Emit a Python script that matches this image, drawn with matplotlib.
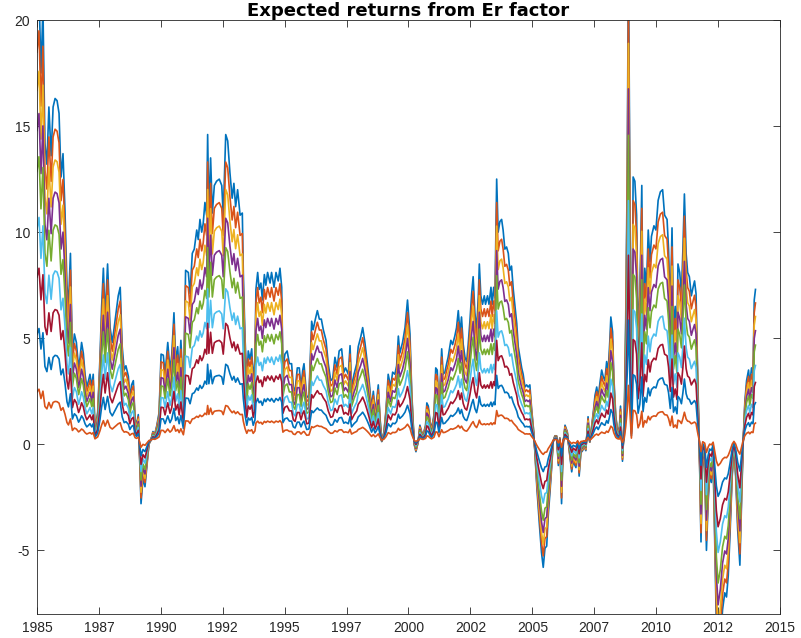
import numpy as np
import matplotlib
matplotlib.use("Agg")
import matplotlib.pyplot as plt

plt.rcParams['font.family'] = ['Liberation Sans', 'DejaVu Sans']
plt.rcParams['axes.unicode_minus'] = False

# Er factor path (top line), decimal years
years = [
    1985.00, 1985.08, 1985.16, 1985.24, 1985.32, 1985.40, 1985.48, 1985.57, 1985.65, 1985.73,
    1985.81, 1985.89, 1985.97, 1986.05, 1986.13, 1986.21, 1986.27, 1986.35, 1986.43, 1986.51,
    1986.59, 1986.68, 1986.74, 1986.80, 1986.87, 1986.94, 1987.01, 1987.08, 1987.14, 1987.21,
    1987.27, 1987.34, 1987.45, 1987.54, 1987.61, 1987.68, 1987.75, 1987.85, 1987.95, 1988.04,
    1988.15, 1988.28, 1988.36, 1988.44, 1988.52, 1988.59, 1988.69, 1988.75, 1988.82, 1988.89,
    1988.96, 1989.02, 1989.09, 1989.20, 1989.28, 1989.36, 1989.44, 1989.52, 1989.60, 1989.68,
    1989.76, 1989.84, 1989.93, 1990.01,
    1990.10, 1990.17, 1990.28, 1990.37, 1990.44, 1990.53, 1990.60, 1990.68, 1990.74, 1990.81,
    1990.91, 1991.00, 1991.11, 1991.18, 1991.27, 1991.35, 1991.45, 1991.51, 1991.58, 1991.65,
    1991.71, 1991.78, 1991.85, 1991.89, 1991.94, 1992.01, 1992.08, 1992.16, 1992.25, 1992.36,
    1992.46, 1992.52, 1992.62, 1992.70, 1992.79, 1992.88, 1992.95, 1993.02, 1993.10, 1993.20,
    1993.29, 1993.33, 1993.40, 1993.47, 1993.53, 1993.60, 1993.67, 1993.73, 1993.80, 1993.84,
    1993.91, 1993.97, 1994.04, 1994.10, 1994.18, 1994.24, 1994.31, 1994.41, 1994.47, 1994.57,
    1994.65, 1994.74, 1994.81, 1994.88, 1994.93,
    1995.01, 1995.10, 1995.19, 1995.28, 1995.35, 1995.42, 1995.51, 1995.59, 1995.66, 1995.73,
    1995.78, 1995.89, 1995.98, 1996.09, 1996.15, 1996.24, 1996.32, 1996.40, 1996.48, 1996.56,
    1996.67, 1996.76, 1996.86, 1996.94, 1997.03, 1997.12, 1997.20, 1997.30, 1997.39, 1997.46,
    1997.57, 1997.64, 1997.70, 1997.80, 1997.91, 1997.97, 1998.07, 1998.15, 1998.24, 1998.33,
    1998.41, 1998.51, 1998.58, 1998.65, 1998.71, 1998.78, 1998.85, 1998.92, 1999.01, 1999.09,
    1999.18, 1999.28, 1999.36, 1999.45, 1999.52, 1999.59, 1999.65, 1999.76, 1999.86, 1999.96,
    2000.06, 2000.13, 2000.23, 2000.30, 2000.39, 2000.46, 2000.53, 2000.59, 2000.69, 2000.74,
    2000.80, 2000.87, 2000.93, 2001.03, 2001.10, 2001.16, 2001.23, 2001.34, 2001.40, 2001.47,
    2001.54, 2001.60, 2001.71, 2001.78, 2001.87, 2001.94, 2002.01, 2002.08, 2002.14, 2002.21,
    2002.28, 2002.35, 2002.41, 2002.48, 2002.55, 2002.61, 2002.68, 2002.75, 2002.82, 2002.86,
    2002.92, 2002.99, 2003.06, 2003.11, 2003.19, 2003.25, 2003.33, 2003.38, 2003.44, 2003.49,
    2003.56, 2003.62, 2003.69, 2003.76, 2003.82, 2003.89, 2003.96, 2004.03, 2004.09, 2004.16,
    2004.23, 2004.30, 2004.37, 2004.43, 2004.50, 2004.57, 2004.63, 2004.70, 2004.77, 2004.83,
    2004.90, 2004.97, 2005.04, 2005.10,
    2005.18, 2005.28, 2005.37, 2005.44, 2005.51, 2005.58, 2005.64, 2005.71, 2005.78, 2005.84,
    2005.91, 2005.98, 2006.05, 2006.11, 2006.18, 2006.25, 2006.32, 2006.41, 2006.49, 2006.59,
    2006.65, 2006.76, 2006.83, 2006.89, 2006.96, 2007.03, 2007.09, 2007.16, 2007.25, 2007.32,
    2007.39, 2007.46, 2007.53, 2007.60, 2007.66, 2007.73, 2007.80, 2007.86, 2007.93, 2008.00,
    2008.06, 2008.13, 2008.17, 2008.24, 2008.29, 2008.37, 2008.43, 2008.51, 2008.56, 2008.64,
    2008.71, 2008.77, 2008.83, 2008.88, 2009.00, 2009.07, 2009.14, 2009.21, 2009.27, 2009.34,
    2009.42, 2009.47, 2009.54, 2009.61, 2009.68, 2009.75, 2009.81, 2009.91, 2009.99, 2010.08,
    2010.17, 2010.26, 2010.34, 2010.44, 2010.50, 2010.57, 2010.64, 2010.70, 2010.77, 2010.84,
    2010.88, 2010.95, 2011.02, 2011.08, 2011.14, 2011.21, 2011.27, 2011.34, 2011.42, 2011.49,
    2011.55, 2011.61, 2011.67, 2011.74, 2011.81, 2011.88, 2011.96, 2012.03, 2012.10, 2012.16,
    2012.23, 2012.30, 2012.36, 2012.43, 2012.50, 2012.59, 2012.68, 2012.77, 2012.84, 2012.91,
    2012.98, 2013.07, 2013.14, 2013.21, 2013.29, 2013.38, 2013.45, 2013.51, 2013.58, 2013.65,
    2013.73, 2013.78, 2013.85, 2013.91, 2013.96, 2014.01,
]
er_factor = [
    20.3, 21.4, 17.5, 20.6, 14.2, 13.2, 15.9, 13.6, 15.9, 16.3,
    16.2, 15.6, 12.6, 13.7, 11.0, 7.5, 6.5, 9.0, 4.2, 5.2,
    4.8, 3.6, 4.1, 4.8, 4.3, 3.3, 2.7, 3.0, 3.3, 2.7,
    3.3, 0.7, 1.5, 4.0, 6.5, 8.3, 6.0, 8.5, 5.5, 4.8,
    5.8, 7.0, 7.4, 4.6, 3.5, 3.7, 3.2, 2.2, 2.8, 3.0,
    1.2, 0.9, 1.4, -2.8, -1.6, -2.0, -1.0, 0.0, 0.2, 0.6,
    0.5, 0.9, 1.5, 4.25,
    4.2, 3.3, 4.8, 3.5, 4.2, 6.2, 3.9, 4.6, 3.3, 4.9,
    2.4, 8.2, 8.1, 7.1, 9.0, 9.2, 10.1, 9.65, 10.6, 10.0,
    10.4, 11.4, 10.8, 14.6, 10.9, 13.5, 10.9, 12.2, 12.4, 12.5,
    12.2, 10.8, 14.6, 14.3, 12.8, 11.6, 12.3, 11.2, 12.0, 10.8,
    10.9, 8.1, 5.0, 3.0, 4.4, 4.0, 4.5, 3.0, 4.0, 7.3,
    8.1, 7.3, 7.6, 6.8, 8.0, 7.5, 8.1, 7.6, 8.1, 7.4,
    8.1, 7.7, 8.3, 7.4, 3.5,
    4.25, 4.4, 3.8, 3.8, 2.7, 2.5, 3.6, 3.6, 2.7, 3.5,
    3.8, 2.2, 2.3, 5.8, 5.4, 5.9, 6.3, 5.9, 5.9, 5.4,
    4.9, 3.8, 3.0, 3.1, 4.1, 3.6, 4.4, 4.5, 3.4, 3.6,
    3.3, 4.65, 2.7, 3.3, 3.8, 4.6, 5.05, 5.5, 4.8, 3.9,
    3.0, 1.7, 2.5, 1.55, 2.0, 2.8, 1.24, 0.13, 0.6, 1.6,
    3.3, 2.7, 3.4, 3.3, 3.7, 5.1, 4.3, 4.8, 5.5, 6.8,
    5.2, 2.5, 0.0, -0.35, 0.1, 0.9, 0.6, 0.45, 0.9, 1.95,
    1.8, 1.1, 0.7, 1.4, 3.6, 3.5, 1.6, 4.5, 3.3, 3.4,
    3.8, 4.1, 4.9, 4.7, 5.1, 5.5, 6.3, 5.2, 6.0, 4.7,
    4.1, 3.9, 4.7, 5.8, 7.1, 7.9, 6.2, 5.4, 7.0, 8.5,
    7.0, 6.6, 7.0, 6.6, 7.0, 6.6, 7.4, 6.6, 7.4, 6.9,
    12.5, 10.0, 10.5, 10.6, 10.1, 9.2, 9.3, 9.0, 8.2, 8.4,
    7.3, 6.5, 5.7, 4.6, 4.1, 3.6, 3.3, 2.7, 2.8, 2.7,
    2.8, 1.7, 0.8, -0.3,
    -2.0, -3.7, -5.1, -5.8, -4.9, -4.8, -3.4, -2.3, -1.1, 0.1,
    0.4, 0.4, -1.0, 0.3, -2.8, 0.1, 0.9, 0.6, -0.3, -1.3,
    -0.8, -1.1, -0.1, -1.5, -0.4, -0.3, -0.1, -0.3, 1.3, 0.1,
    0.8, 1.5, 2.3, 2.7, 2.2, 2.9, 3.5, 3.2, 3.0, 3.9,
    3.4, 4.9, 6.0, 5.3, 3.2, 1.3, 0.8, 0.6, 1.8, -0.8,
    0.95, 5.8, 12.7, 23.0, 1.0, 12.6, 12.4, 10.8, 5.3, 7.0,
    12.2, 5.6, 8.3, 7.4, 10.1, 8.6, 9.8, 10.3, 10.1, 11.5,
    11.9, 12.0, 10.8, 10.6, 9.2, 6.2, 10.2, 5.5, 6.5, 5.2,
    8.5, 8.1, 7.1, 9.2, 11.8, 9.0, 8.1, 7.9, 7.0, 7.4,
    7.7, 7.1, 3.6, 0.0, -4.6, -0.5, -1.1, -5.0, -2.7, -1.5,
    -1.8, -0.7, -4.3, -8.5, -10.5, -9.5, -7.8, -7.0, -7.2, -6.2,
    -4.3, -1.5, -0.35, -1.5, -4.0, -5.7, -2.7, 0.0, 2.0, 3.0,
    3.5, 2.8, 3.6, 3.3, 6.8, 7.3,
]

# loadings of each horizon on the factor, top line first
loadings = [1.0, 0.91, 0.82, 0.726, 0.63, 0.495, 0.382, 0.248, 0.113]
pivot = 0.2  # level where all lines meet

colors = ['#0072BD', '#D95319', '#EDB120', '#7E2F8E', '#77AC30',
          '#4DBEEE', '#A2142F', '#0072BD', '#D95319']

x = np.array(years)
f = np.array(er_factor)

fig = plt.figure(figsize=(8.01, 6.38), dpi=100)
ax = fig.add_axes([37/801, 1-614/638, (780-37)/801, (614-20)/638])

for b, c in zip(loadings, colors):
    ax.plot(x, pivot + b*(f - pivot), color=c, lw=1.2)

ax.set_xlim(1985, 2015)
ax.set_ylim(-8, 20)
xt = np.arange(1985, 2015.1, 2.5)
ax.set_xticks(xt)
ax.set_xticklabels([str(int(v)) for v in xt])
ax.set_yticks([-5, 0, 5, 10, 15, 20])
ax.set_yticklabels(['-5', '0', '5', '10', '15', '20'])

ax.tick_params(direction='in', top=True, right=True, length=5, width=0.6,
               colors='#262626', labelsize=10, pad=5)
for s in ax.spines.values():
    s.set_color('#262626')
    s.set_linewidth(0.6)

ax.set_title('Expected returns from Er factor', fontsize=13, fontweight='bold',
             family='DejaVu Sans', pad=3)

fig.savefig('out.png', dpi=100)
